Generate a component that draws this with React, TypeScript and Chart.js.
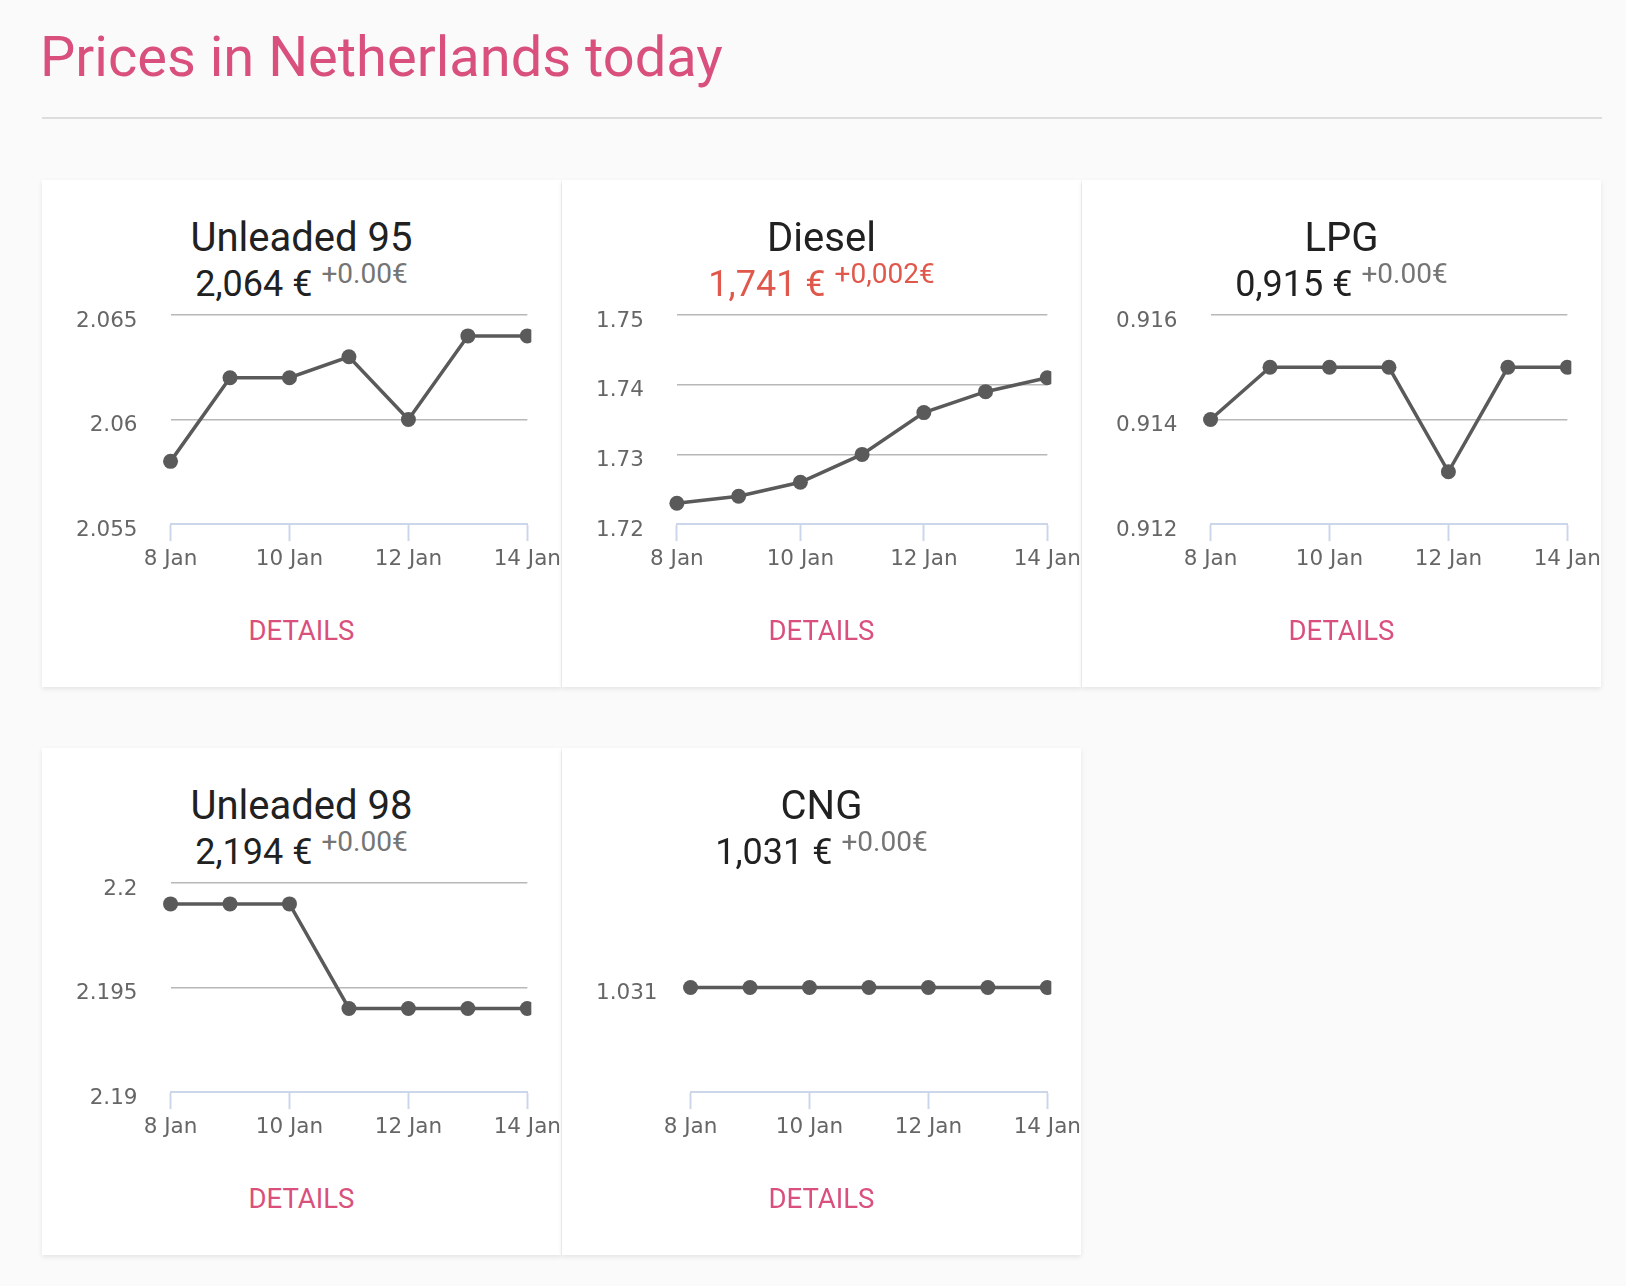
import React, { useEffect, useRef } from "react";
import { Chart, registerables } from "chart.js";

Chart.register(...registerables);

// ---------- data ----------
const days = ["8 Jan", "9 Jan", "10 Jan", "11 Jan", "12 Jan", "13 Jan", "14 Jan"];

const unleaded95 = [2.058, 2.062, 2.062, 2.063, 2.06, 2.064, 2.064];
const unleaded95Ticks = [2.055, 2.06, 2.065];
const unleaded95TickLabels = ["2.055", "2.06", "2.065"];

const diesel = [1.723, 1.724, 1.726, 1.73, 1.736, 1.739, 1.741];
const dieselTicks = [1.72, 1.73, 1.74, 1.75];
const dieselTickLabels = ["1.72", "1.73", "1.74", "1.75"];

const lpg = [0.914, 0.915, 0.915, 0.915, 0.913, 0.915, 0.915];
const lpgTicks = [0.912, 0.914, 0.916];
const lpgTickLabels = ["0.912", "0.914", "0.916"];

const unleaded98 = [2.199, 2.199, 2.199, 2.194, 2.194, 2.194, 2.194];
const unleaded98Ticks = [2.19, 2.195, 2.2];
const unleaded98TickLabels = ["2.19", "2.195", "2.2"];

const cng = [1.031, 1.031, 1.031, 1.031, 1.031, 1.031, 1.031];
const cngTicks = [1.031];
const cngTickLabels = ["1.031"];

const PINK = "#d9507d";
const RED = "#e0584c";
const LINE = "#5a5a5a";
const X_FONT = { family: '"DejaVu Sans", sans-serif', size: 21.5, lineHeight: 1.67 };
const Y_FONT = { family: '"DejaVu Sans", sans-serif', size: 21.5, lineHeight: 1.3 };

type ChartProps = {
  values: number[];
  ticks: number[];
  tickLabels: string[];
  min: number;
  max: number;
};

function PriceChart({ values, ticks, tickLabels, min, max }: ChartProps) {
  const ref = useRef<HTMLCanvasElement | null>(null);
  useEffect(() => {
    if (!ref.current) return;
    const chart = new Chart(ref.current, {
      type: "line",
      data: {
        labels: days,
        datasets: [
          {
            data: values,
            borderColor: LINE,
            backgroundColor: LINE,
            borderWidth: 3.5,
            pointRadius: 7.5,
            pointBackgroundColor: LINE,
            pointBorderWidth: 0,
            tension: 0,
            clip: { left: 10, top: 10, right: 4, bottom: 10 } as any,
          },
        ],
      },
      options: {
        responsive: false,
        animation: false,
        events: [],
        layout: { padding: { left: 34, top: 15, right: 0, bottom: 3 } },
        plugins: { legend: { display: false }, tooltip: { enabled: false } },
        scales: {
          x: {
            type: "category",
            offset: false,
            grid: {
              display: true,
              drawOnChartArea: false,
              drawTicks: true,
              tickLength: 17,
              tickWidth: 2,
              tickColor: (ctx: any) => (ctx.index % 2 === 0 ? "#ccd6eb" : "rgba(0,0,0,0)"),
            },
            border: { display: true, color: "#ccd6eb", width: 2 },
            ticks: {
              autoSkip: false,
              maxRotation: 0,
              minRotation: 0,
              padding: 0,
              color: "#666666",
              font: X_FONT,
              callback: (_v: any, i: number) => (i % 2 === 0 ? days[i] : ""),
            },
          },
          y: {
            type: "linear",
            min,
            max,
            afterBuildTicks: (scale: any) => {
              scale.ticks = ticks.map((v) => ({ value: v }));
            },
            grid: {
              drawTicks: true,
              tickLength: 33,
              tickColor: "rgba(0,0,0,0)",
              lineWidth: 1.5,
              color: (ctx: any) =>
                ctx.tick && Math.abs(ctx.tick.value - min) < 1e-9 ? "rgba(0,0,0,0)" : "#b8b8b8",
            },
            border: { display: false },
            ticks: {
              padding: 0,
              labelOffset: 6,
              color: "#666666",
              font: Y_FONT,
              callback: (_v: any, i: number) => tickLabels[i],
            },
          },
        },
      },
    } as any);
    return () => chart.destroy();
  }, []);
  return (
    <canvas
      ref={ref}
      width={519}
      height={280}
      style={{ position: "absolute", left: 0, top: 120, width: 519, height: 280, display: "block" }}
    />
  );
}

type CardProps = ChartProps & {
  name: string;
  price: string;
  change: string;
  priceColor: string;
  changeColor: string;
  left: number;
  top: number;
};

function Card(p: CardProps) {
  return (
    <div
      style={{
        position: "absolute",
        left: p.left,
        top: p.top,
        width: 519,
        height: 507,
        background: "#ffffff",
        boxShadow: "0 2px 5px rgba(0,0,0,0.09)",
        fontFamily: "Roboto, sans-serif",
      }}
    >
      <div
        style={{
          position: "absolute",
          top: 38,
          left: 0,
          width: "100%",
          textAlign: "center",
          fontSize: 40,
          lineHeight: "40px",
          color: "#212121",
        }}
      >
        {p.name}
      </div>
      <div
        style={{
          position: "absolute",
          top: 86,
          left: 0,
          width: "100%",
          textAlign: "center",
          fontSize: 36,
          lineHeight: "36px",
          color: p.priceColor,
          whiteSpace: "nowrap",
        }}
      >
        {p.price}
        <span
          style={{
            fontSize: 28,
            position: "relative",
            top: -13,
            marginLeft: 9,
            color: p.changeColor,
          }}
        >
          {p.change}
        </span>
      </div>
      <PriceChart values={p.values} ticks={p.ticks} tickLabels={p.tickLabels} min={p.min} max={p.max} />
      <div
        style={{
          position: "absolute",
          top: 437,
          left: 0,
          width: "100%",
          textAlign: "center",
          fontSize: 27.5,
          lineHeight: "27px",
          color: PINK,
        }}
      >
        DETAILS
      </div>
    </div>
  );
}

export default function App() {
  return (
    <div
      style={{
        position: "absolute",
        left: 0,
        top: 0,
        width: 1626,
        height: 1286,
        background: "#fafafa",
        overflow: "hidden",
        fontFamily: "Roboto, sans-serif",
      }}
    >
      <div
        style={{
          position: "absolute",
          left: 40,
          top: 29,
          fontSize: 56,
          lineHeight: "56px",
          color: PINK,
          whiteSpace: "nowrap",
        }}
      >
        Prices in Netherlands today
      </div>
      <div
        style={{
          position: "absolute",
          left: 42,
          top: 117,
          width: 1560,
          height: 2,
          background: "#dddddd",
        }}
      />
      <Card
        left={42}
        top={180}
        name="Unleaded 95"
        price="2,064 €"
        change="+0.00€"
        priceColor="#212121"
        changeColor="#757575"
        values={unleaded95}
        ticks={unleaded95Ticks}
        tickLabels={unleaded95TickLabels}
        min={2.055}
        max={2.065}
      />
      <Card
        left={562}
        top={180}
        name="Diesel"
        price="1,741 €"
        change="+0,002€"
        priceColor={RED}
        changeColor={RED}
        values={diesel}
        ticks={dieselTicks}
        tickLabels={dieselTickLabels}
        min={1.72}
        max={1.75}
      />
      <Card
        left={1082}
        top={180}
        name="LPG"
        price="0,915 €"
        change="+0.00€"
        priceColor="#212121"
        changeColor="#757575"
        values={lpg}
        ticks={lpgTicks}
        tickLabels={lpgTickLabels}
        min={0.912}
        max={0.916}
      />
      <Card
        left={42}
        top={748}
        name="Unleaded 98"
        price="2,194 €"
        change="+0.00€"
        priceColor="#212121"
        changeColor="#757575"
        values={unleaded98}
        ticks={unleaded98Ticks}
        tickLabels={unleaded98TickLabels}
        min={2.19}
        max={2.2}
      />
      <Card
        left={562}
        top={748}
        name="CNG"
        price="1,031 €"
        change="+0.00€"
        priceColor="#212121"
        changeColor="#757575"
        values={cng}
        ticks={cngTicks}
        tickLabels={cngTickLabels}
        min={1.03}
        max={1.032}
      />
    </div>
  );
}
